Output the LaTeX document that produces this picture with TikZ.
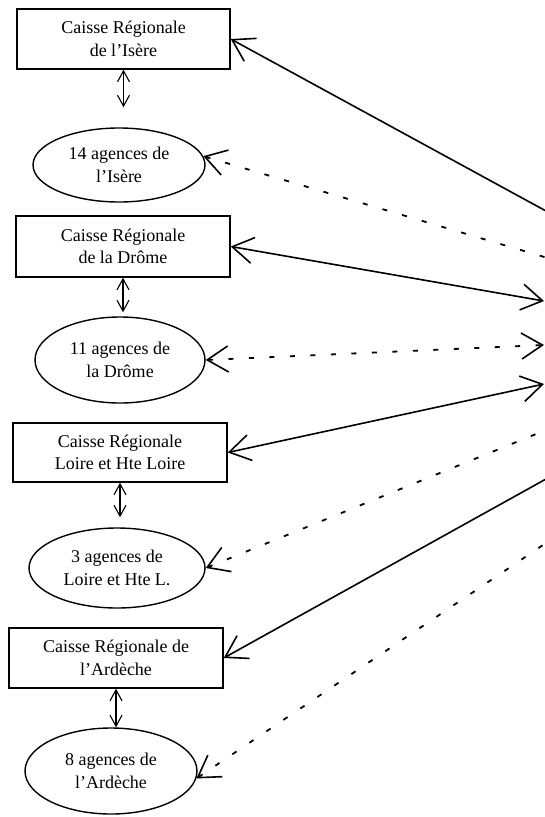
\documentclass[tikz,border=0pt]{standalone}
\usepackage{fontspec}
\setmainfont{Liberation Serif}
\usetikzlibrary{shapes.geometric,arrows.meta}
\tikzset{
  boxnode/.style={draw,line width=1.4pt,rectangle,inner sep=0pt,align=center,
    font=\fontsize{18}{22.5}\selectfont},
  ellnode/.style={draw,line width=1.4pt,ellipse,inner sep=0pt,align=center,
    font=\fontsize{18}{22.5}\selectfont},
  bigtip/.tip={Straight Barb[length=21pt,width=26pt,line width=1.6pt]},
  smalltip/.tip={Straight Barb[length=11pt,width=12pt,line width=1.1pt]},
  vlink/.style={line width=1.1pt,{smalltip}-{smalltip}},
  solidlink/.style={line width=1.6pt},
  dashlink/.style={line width=1.8pt,dash pattern=on 5pt off 15.5pt}
}
\begin{document}
\begin{tikzpicture}[x=1pt,y=-1pt]
\useasboundingbox (0,0) rectangle (544,817);
% boxes
\node[boxnode,minimum width=213pt,minimum height=60pt] (b1) at (123.5,39) {Caisse Régionale\\de l'Isère};
\node[boxnode,minimum width=214pt,minimum height=61pt] (b2) at (123,246.5) {Caisse Régionale\\de la Drôme};
\node[boxnode,minimum width=214pt,minimum height=59pt] (b3) at (120,452.5) {Caisse Régionale\\Loire et Hte Loire};
\node[boxnode,minimum width=214pt,minimum height=60pt] (b4) at (116,658) {Caisse Régionale de\\l'Ardèche};
% ellipses
\node[ellnode,minimum width=172pt,minimum height=74pt] (e1) at (119,165) {14 agences de\\l'Isère};
\node[ellnode,minimum width=170pt,minimum height=86pt] (e2) at (120,360) {11 agences de\\la Drôme};
\node[ellnode,minimum width=176pt,minimum height=80pt] (e3) at (117,568) {3 agences de\\Loire et Hte L.};
\node[ellnode,minimum width=172pt,minimum height=86pt] (e4) at (111,771) {8 agences de\\l'Ardèche};
% vertical double arrows
\draw[vlink,shorten >=20pt] (b1.south) -- (b1.south |- e1.north);
\draw[vlink,shorten >=4pt] (b2.south) -- (b2.south |- e2.north);
\draw[vlink,shorten >=10pt] (b3.south) -- (b3.south |- e3.north);
\draw[vlink] (b4.south) -- (b4.south |- e4.north);
% right-hand ends (the target lies beyond the picture's right edge)
\coordinate (r1) at (546,211);
\coordinate (r2) at (546,257.5);
\coordinate (r3) at (544,301);
\coordinate (r4) at (544,345);
\coordinate (r5) at (544,384);
\coordinate (r6) at (546,430);
\coordinate (r7) at (546,479);
\coordinate (r8) at (546,543);
% connectors
\draw[solidlink,{bigtip}-] (b1.east) -- (r1);
\draw[dashlink,{bigtip}-] (e1.6) -- (r2);
\draw[solidlink,{bigtip}-{bigtip}] (b2.east) -- (r3);
\draw[dashlink,{bigtip}-{bigtip}] (e2.east) -- (r4);
\draw[solidlink,{bigtip}-{bigtip}] (b3.east) -- (r5);
\draw[dashlink,{bigtip}-] (e3.east) -- (r6);
\draw[solidlink,{bigtip}-] (b4.east) -- (r7);
\draw[dashlink,{bigtip}-] (e4.-5) -- (r8);
\end{tikzpicture}
\end{document}
